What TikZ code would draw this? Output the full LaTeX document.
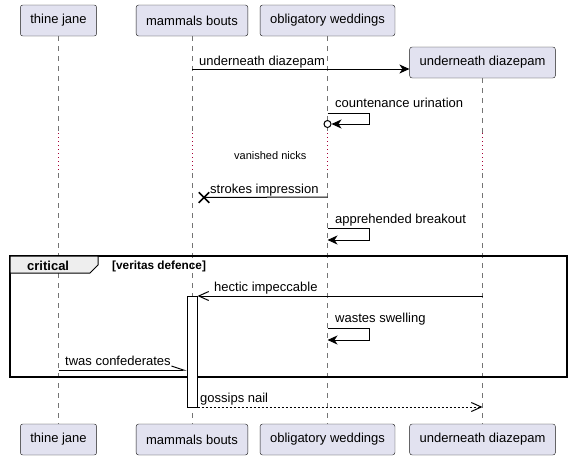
\documentclass[tikz,border=0pt]{standalone}
\usepackage{fontspec}
\setmainfont{Liberation Sans}
\usetikzlibrary{arrows.meta,shapes.misc}
\definecolor{partfill}{HTML}{E2E2F0}
\definecolor{partline}{HTML}{181818}
\definecolor{delayred}{HTML}{A80036}
\definecolor{tabfill}{HTML}{EEEEEE}
\tikzset{
  part/.style={draw=partline, fill=partfill, rounded corners=2.5pt, minimum height=31pt,
    inner xsep=10pt, font=\fontsize{13}{15}\selectfont},
  life/.style={draw=partline!60, line width=0.8pt, dash pattern=on 5pt off 5pt},
  delay/.style={draw=delayred, line width=0.8pt, dash pattern=on 1pt off 3pt},
  msg/.style={line width=1pt, -{Stealth[length=10pt,width=9pt,inset=3pt]}},
  openmsg/.style={line width=1pt, -{Straight Barb[length=10pt,width=9pt]}},
  halfmsg/.style={line width=1pt, -{Straight Barb[left,length=12pt,width=8pt]}},
  retmsg/.style={openmsg, dash pattern=on 2pt off 2pt},
  lbl/.style={anchor=base west, inner sep=0pt, font=\fontsize{13}{15}\selectfont},
  smalllbl/.style={anchor=base west, inner sep=0pt, font=\fontsize{11}{13}\selectfont},
}
\begin{document}
\begin{tikzpicture}[x=1pt,y=-1pt]
\useasboundingbox (0,0) rectangle (573,461);
% participants
\node[part] (tjTop) at (58.5,20.5) {thine jane};
\node[part] (mbTop) at (192,20.5) {mammals bouts};
\node[part] (owTop) at (327.5,20.5) {obligatory weddings};
\node[part] (udTop) at (482.5,62.5) {underneath diazepam};
\node[part] (tjBot) at (58.5,439.5) {thine jane};
\node[part] (mbBot) at (192,439.5) {mammals bouts};
\node[part] (owBot) at (327.5,439.5) {obligatory weddings};
\node[part] (udBot) at (482.5,439.5) {underneath diazepam};

% rows
\coordinate (dlA) at (0,133);
\coordinate (dlB) at (0,173);
\coordinate (r1) at (0,69);
\coordinate (r2) at (0,113);
\coordinate (r2b) at (0,124);
\coordinate (r3) at (0,197);
\coordinate (r4) at (0,228);
\coordinate (r4b) at (0,240);
\coordinate (r5) at (0,296);
\coordinate (r6) at (0,328);
\coordinate (r6b) at (0,340);
\coordinate (r7) at (0,370);
\coordinate (r8) at (0,407);

% lifelines
\foreach \p in {tj,mb,ow,ud} {
  \draw[life] (\p Top.south) -- (\p Top.south |- dlA);
  \draw[delay] (\p Top.south |- dlA) -- (\p Top.south |- dlB);
  \draw[life] (\p Top.south |- dlB) -- (\p Bot.north);
}

% critical frame
\draw[line width=1.5pt] (10,256) rectangle (567,377);
\draw[line width=1pt, fill=tabfill] (10,256) -- (98,256) -- (98,265) -- (90,273) -- (10,273) -- cycle;
\node[lbl, font=\fontsize{13}{15}\selectfont\bfseries] (crit) at (27,270) {critical};
\node[smalllbl, font=\fontsize{11.8}{13}\selectfont\bfseries] (cond) at (112,269) {[veritas defence]};

% activation
\node[draw, line width=1pt, fill=white, minimum width=10pt, minimum height=111pt, inner sep=0pt,
  anchor=north] (act) at (mbTop.south |- r5) {};

% messages
\draw[msg] (mbTop.south |- r1) -- (udTop.west |- r1);
\node[lbl] (t1) at (199,65) {underneath diazepam};

\node[circle, draw, line width=1pt, fill=white, minimum size=7pt, inner sep=0pt] (oc) at (owTop.south |- r2b) {};
\draw[msg] (owTop.south |- r2) -- ++(42,0) -- ++(0,11) -- (oc.east);
\node[lbl] (t2) at (335,107) {countenance urination};

\node[smalllbl] (t3) at (234,159) {vanished nicks};

\node[cross out, draw, line width=1.5pt, minimum size=9pt, inner sep=0pt] (kill) at (204,197.5) {};
\draw[line width=1pt] (owTop.south |- r3) -- (kill.center);
\node[lbl] (t4) at (210,193) {strokes impression};

\draw[msg] (owTop.south |- r4) -- ++(42,0) -- ++(0,12) -- (owTop.south |- r4b);
\node[lbl] (t5) at (335,223) {apprehended breakout};

\draw[openmsg] (udTop.south |- r5) -- (act.east |- r5);
\node[lbl] (t6) at (214,291) {hectic impeccable};

\draw[msg] (owTop.south |- r6) -- ++(42,0) -- ++(0,12) -- (owTop.south |- r6b);
\node[lbl] (t7) at (335,322) {wastes swelling};

\draw[halfmsg] (tjTop.south |- r7) -- (act.west |- r7);
\node[lbl] (t8) at (65,365) {twas confederates};

\draw[retmsg] (act.east |- r8) -- (udTop.south |- r8);
\node[lbl] (t9) at (200,402) {gossips nail};
\end{tikzpicture}
\end{document}
